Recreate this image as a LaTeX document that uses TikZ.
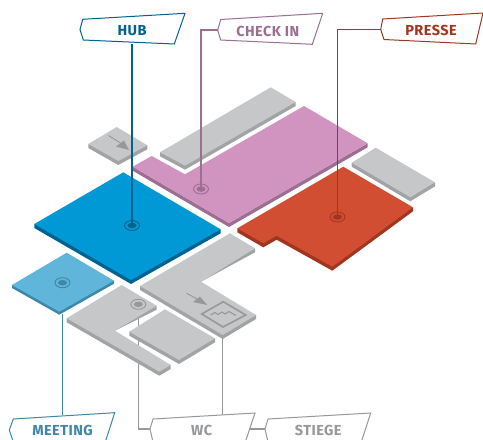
\documentclass[tikz,border=0pt]{standalone}
\usepackage{fontspec}
\setmainfont{Fira Sans}[LetterSpace=3]
\usepackage{xcolor}
\usetikzlibrary{shapes.geometric}
\definecolor{hubblue}{HTML}{0099D6}
\definecolor{hubdark}{HTML}{00628F}
\definecolor{meetblue}{HTML}{5FB6DA}
\definecolor{meetdark}{HTML}{3E87A6}
\definecolor{checkpink}{HTML}{D193C0}
\definecolor{checkdark}{HTML}{9B6E92}
\definecolor{pressred}{HTML}{D24E33}
\definecolor{pressdark}{HTML}{A03620}
\definecolor{blockgray}{HTML}{C6C7C8}
\definecolor{blockdark}{HTML}{A2A3A5}
\definecolor{taggray}{HTML}{97989A}
\tikzset{
  tagbox/.style={draw, line width=1pt, line join=miter, fill=white},
  taglabel/.style={font=\bfseries\fontsize{14.5}{14.5}\selectfont, inner sep=0pt, anchor=center},
  leader/.style={line width=1.2pt},
  spotring/.style={ellipse, draw, line width=0.9pt, inner sep=0pt, minimum width=15pt, minimum height=10pt},
  spotcore/.style={ellipse, inner sep=0pt, minimum width=9pt, minimum height=5.5pt},
}
\begin{document}
\begin{tikzpicture}[x=1pt, y=-1pt]
    \useasboundingbox (0,0) rectangle (483,440);

    % gray rooms
    \fill[blockdark] (88.3,144) -- (88.3,148) -- (118.3,165) -- (147.3,149.3) -- (147.3,145.3) -- cycle;
    \fill[blockgray] (116.7,127) -- (147.3,145.3) -- (118.3,161) -- (88.3,144) -- cycle;
    \fill[blockdark] (160,152.3) -- (160,156.3) -- (185,169.7) -- (295.7,106) -- (295.7,102) -- cycle;
    \fill[blockgray] (270.7,87.3) -- (295.7,102) -- (185,165.7) -- (160,152.3) -- cycle;
    \fill[blockdark] (351.7,162.7) -- (351.7,166.7) -- (410.3,201.3) -- (435,186.3) -- (435,182.3) -- cycle;
    \fill[blockgray] (375.7,147.7) -- (435,182.3) -- (410.3,197.3) -- (351.7,162.7) -- cycle;

    % wc leader runs under the rooms
    \coordinate (wctop) at (138.3,305);
    \coordinate (wcbend) at (138.3,429);
    \coordinate (wcfoot) at (150,429);
    \draw[leader, draw=taggray] (wctop) -- (wcbend) -- (wcfoot);

    % stiege
    \fill[blockdark] (140,286) -- (140,290) -- (222.7,339) -- (256,319) -- (256,315) -- cycle;
    \fill[blockdark] (201,281.7) -- (255,252.3) -- (255,248.3) -- (201,277.7) -- cycle;
    \fill[blockgray] (230,233.3) -- (255,248.3) -- (201,281.7) -- (256,315) -- (222.7,335) -- (140,286) -- cycle;
    % wc
    \fill[blockdark] (66.7,318.3) -- (66.7,322.3) -- (159.3,375.7) -- (170.7,369) -- (170.7,365) -- cycle;
    \fill[blockdark] (115,330.7) -- (156.7,309.7) -- (156.7,305.7) -- (115,326.7) -- cycle;
    \fill[blockgray] (121.7,285) -- (156.7,305.7) -- (115,330.7) -- (170.7,365) -- (159.3,371.7) -- (66.7,318.3) -- cycle;
    % middle room
    \fill[blockdark] (129.3,331.7) -- (129.3,335.7) -- (179,364) -- (215,342.3) -- (215,338.3) -- cycle;
    \fill[blockgray] (165,309.3) -- (215,338.3) -- (179,360) -- (129.3,331.7) -- cycle;

    % coloured floors
    \fill[checkdark] (132.7,166.7) -- (132.7,170.7) -- (229,227) -- (367.7,147.3) -- (367.7,143.3) -- (229,223) -- cycle;
    \fill[checkpink] (132.7,166.7) -- (151.7,156) -- (185,174.3) -- (304,106) -- (367.7,143.3) -- (229,223) -- cycle;
    \fill[pressdark] (237.3,228.3) -- (237.3,232.3) -- (263.3,247.3) -- (276.7,239.7) -- (332.3,270.7) -- (413,211.3) -- (413,207.3) -- cycle;
    \fill[pressred] (343.3,166.7) -- (413,207.3) -- (332.3,266.7) -- (276.7,235.7) -- (263.3,243.3) -- (237.3,228.3) -- cycle;
    \fill[hubdark] (34.3,224) -- (34.3,228) -- (131,284) -- (220.7,233.3) -- (220.7,229.3) -- cycle;
    \fill[hubblue] (123.3,172.3) -- (220.7,229.3) -- (131,280) -- (34.3,224) -- cycle;
    \fill[meetdark] (12,285) -- (12,288) -- (59.3,314.7) -- (114,283.7) -- (114,280.7) -- cycle;
    \fill[meetblue] (66.7,252.7) -- (114,280.7) -- (59.3,311.7) -- (12,285) -- cycle;

    % arrows and stairs sign
    \draw[taggray, line width=0.9pt] (108.5,135.5) -- (122,144);
    \fill[taggray] (129,150) -- (116,146.5) -- (124,140.5) -- cycle;
    \draw[taggray, line width=0.9pt] (186.7,293.3) -- (198,299.5);
    \fill[taggray] (207.3,305) -- (193,302) -- (200,296.7) -- cycle;
    \draw[taggray, line width=1.6pt] (201.7,314) -- (223.3,301.7) -- (245.7,315) -- (223,327) -- cycle;
    \draw[taggray, line width=1.1pt] (210.5,315) -- (215,312.5) -- (218,314.5) -- (222,312) -- (225,314) -- (229,311.5) -- (236,315.5);

    % markers
    \node[spotring, draw=hubdark] (hubspot) at (132,225.5) {};
    \node[spotcore, fill=hubdark] at (hubspot) {};
    \node[spotring, draw=checkdark] (checkspot) at (201,189) {};
    \node[spotcore, fill=checkdark] at (checkspot) {};
    \node[spotring, draw=pressdark] (presspot) at (337.5,217) {};
    \node[spotcore, fill=pressdark] at (presspot) {};
    \node[spotring, draw=meetdark] (meetspot) at (62.5,282.7) {};
    \node[spotcore, fill=meetdark] at (meetspot) {};
    \node[spotring, draw=taggray] (wcspot) at (138.3,304.3) {};
    \node[spotcore, fill=taggray] at (wcspot) {};

    % tags
    \draw[tagbox, draw=hubdark] (80,29.5) -- (82.7,19.3) -- (185,13.3) -- (174.3,44) -- (83.3,40) -- cycle;
    \node[taglabel, text=hubdark] (hub) at (132,31) {HUB};
    \draw[tagbox, draw=checkdark] (217.7,30) -- (220.7,19.5) -- (322.7,13.3) -- (312.3,44.3) -- (220.7,40) -- cycle;
    \node[taglabel, text=checkdark] (checkin) at (267.7,31) {CHECK IN};
    \draw[tagbox, draw=pressdark] (380.7,29.5) -- (382.7,19) -- (483,13) -- (475.7,44) -- (384,39.5) -- cycle;
    \node[taglabel, text=pressdark] (presse) at (431,30.5) {PRESSE};
    \draw[tagbox, draw=meetdark] (9.3,430) -- (13.3,419) -- (114.7,412.7) -- (104,446) -- (13.3,442) -- cycle;
    \node[taglabel, text=meetdark] (meeting) at (62.5,430) {MEETING};
    \draw[tagbox, draw=taggray] (150,429) -- (153,419) -- (255,413) -- (244,446) -- (153,442) -- cycle;
    \node[taglabel, text=taggray] (wc) at (201.7,430) {WC};
    \draw[tagbox, draw=taggray] (265,429) -- (268,419) -- (370.7,413) -- (360,446) -- (268,442) -- cycle;
    \node[taglabel, text=taggray] (stiege) at (318.3,430) {STIEGE};

    % leaders
    \coordinate (hubfoot) at (132,44);
    \coordinate (checkfoot) at (217.7,30);
    \coordinate (pressfoot) at (380.7,29.5);
    \coordinate (meettop) at (62.7,314);
    \coordinate (meetfoot) at (62.7,415);
    \coordinate (stiegetop) at (222.7,338);
    \coordinate (stiegefoot) at (222.7,414.5);
    \coordinate (wcright) at (249,429);
    \coordinate (stiegeleft) at (265,429);
    \draw[leader, draw=hubdark] (hubfoot) -- (hubspot.center);
    \draw[leader, draw=checkdark] (checkfoot) -- (201,30) -- (checkspot.center);
    \draw[leader, draw=pressdark] (pressfoot) -- (337.5,29.5) -- (presspot.center);
    \draw[leader, draw=meetdark] (meettop) -- (meetfoot);
    \draw[leader, draw=taggray] (stiegetop) -- (stiegefoot);
    \draw[leader, draw=taggray] (wcright) -- (stiegeleft);
\end{tikzpicture}
\end{document}
